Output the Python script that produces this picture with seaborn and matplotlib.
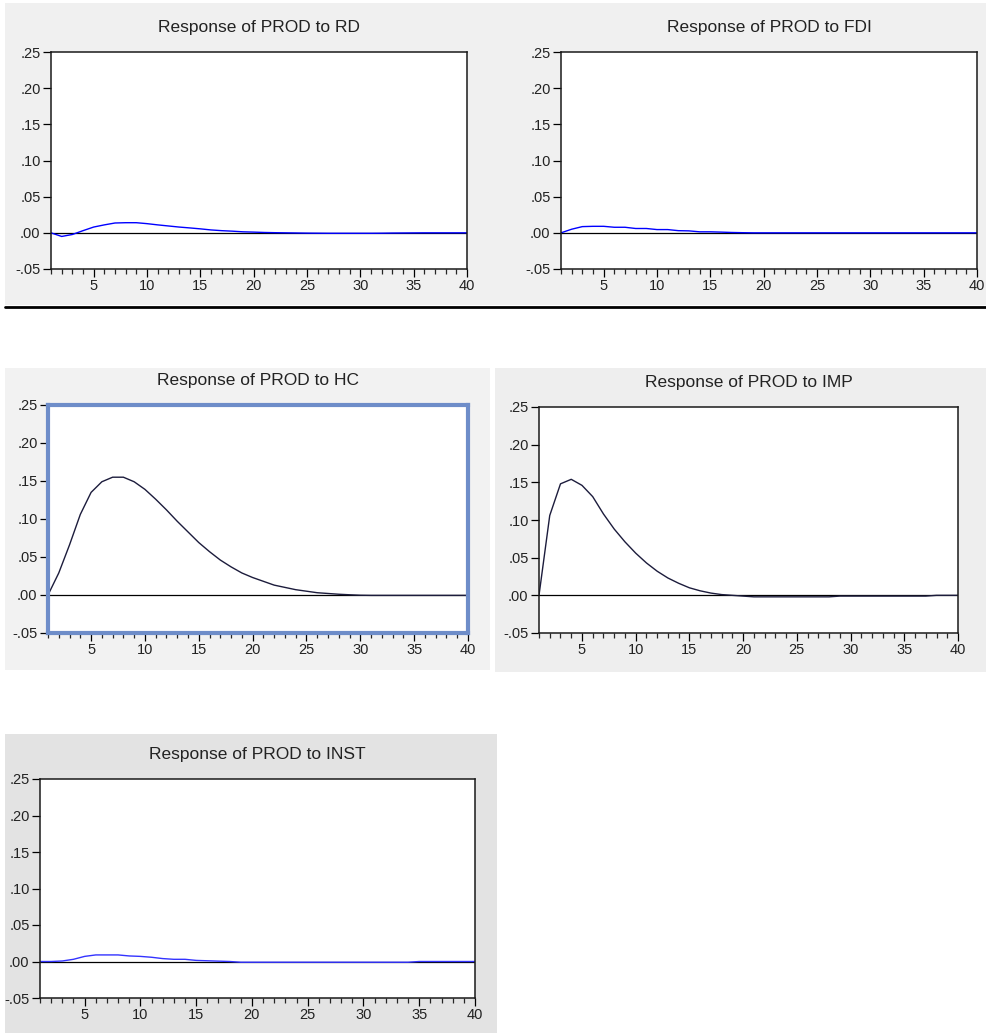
import matplotlib
matplotlib.use("Agg")
from matplotlib import pyplot as plt
from matplotlib.patches import Rectangle
from matplotlib.lines import Line2D
from matplotlib.ticker import FuncFormatter, MultipleLocator
import seaborn as sns
import pandas as pd

# periods 1..40
periods = list(range(1, 41))

rd = [0.0, -0.005, -0.0023, 0.003, 0.008, 0.011, 0.0136, 0.014, 0.014, 0.0127,
      0.011, 0.0095, 0.008, 0.0068, 0.0055, 0.004, 0.003, 0.0023, 0.0014, 0.001,
      0.0005, 0.0002, 0.0, -0.0002, -0.0004, -0.0005, -0.0006, -0.0006, -0.0006, -0.0006,
      -0.0006, -0.0005, -0.0003, -0.0002, -0.0001, 0.0, 0.0, 0.0, 0.0, 0.0]
fdi = [0.0, 0.005, 0.0086, 0.009, 0.009, 0.0077, 0.0077, 0.006, 0.006, 0.0045,
       0.0045, 0.003, 0.0027, 0.0014, 0.0014, 0.001, 0.0005, 0.0002, 0.0, 0.0,
       0.0, 0.0, 0.0, 0.0, 0.0, 0.0, 0.0, 0.0, 0.0, 0.0,
       0.0, 0.0, 0.0, 0.0, 0.0, 0.0, 0.0, 0.0, 0.0, 0.0]
hc = [0.0, 0.029, 0.066, 0.106, 0.135, 0.149, 0.155, 0.155, 0.149, 0.139,
      0.126, 0.112, 0.097, 0.083, 0.069, 0.057, 0.046, 0.037, 0.029, 0.023,
      0.018, 0.013, 0.010, 0.007, 0.005, 0.003, 0.002, 0.001, 0.0003, -0.0003,
      -0.0005, -0.0005, -0.0005, -0.0005, -0.0005, -0.0005, -0.0005, -0.0005, -0.0005, -0.0005]
imp = [0.0, 0.106, 0.148, 0.154, 0.146, 0.131, 0.108, 0.088, 0.071, 0.056,
       0.043, 0.032, 0.023, 0.016, 0.010, 0.006, 0.003, 0.001, 0.0, -0.001,
       -0.002, -0.002, -0.002, -0.002, -0.002, -0.002, -0.002, -0.002, -0.001, -0.001,
       -0.001, -0.001, -0.001, -0.001, -0.001, -0.001, -0.001, 0.0, 0.0, 0.0]
inst = [0.0, 0.0, 0.0007, 0.003, 0.007, 0.009, 0.009, 0.009, 0.0076, 0.007,
        0.0058, 0.004, 0.003, 0.003, 0.0015, 0.001, 0.0005, 0.0, -0.001, -0.001,
        -0.001, -0.001, -0.001, -0.001, -0.001, -0.001, -0.001, -0.001, -0.001, -0.001,
        -0.001, -0.001, -0.001, -0.001, 0.0, 0.0, 0.0, 0.0, 0.0, 0.0]

titles = ["Response of PROD to RD", "Response of PROD to FDI", "Response of PROD to HC",
          "Response of PROD to IMP", "Response of PROD to INST"]
series = [rd, fdi, hc, imp, inst]

W, H = 987, 1033

sns.set_theme(style="ticks")
plt.rcParams["font.family"] = ["Liberation Sans", "DejaVu Sans"]

fig = plt.figure(figsize=(W / 100, H / 100), dpi=100)
fig.patch.set_facecolor("white")


def frac(x0, y0, x1, y1):
    return [x0 / W, 1 - y1 / H, (x1 - x0) / W, (y1 - y0) / H]


# grey panel backgrounds (pixel boxes)
bgs = [((5, 3, 500, 305), "#f0f0f0"), ((500, 3, 987, 305), "#f0f0f0"),
       ((5, 368, 490, 670), "#f2f2f2"), ((495, 368, 987, 672), "#eeeeee"),
       ((5, 734, 497, 1033), "#e3e3e3")]
for (x0, y0, x1, y1), c in bgs:
    b = frac(x0, y0, x1, y1)
    fig.patches.append(Rectangle((b[0], b[1]), b[2], b[3], transform=fig.transFigure,
                                 facecolor=c, edgecolor="none", zorder=-10))
fig.lines.append(Line2D([5 / W, 1], [1 - 306.5 / H] * 2, transform=fig.transFigure,
                        color="black", lw=2, zorder=-5))

boxes = [(51, 52, 467, 269), (561, 52, 977, 269), (48, 405, 468, 633),
         (539, 407, 958, 633), (40, 779, 475, 998)]
colors = ["#0000ff", "#0000ff", "#1c1c3c", "#1c1c3c", "#3333ff"]

for i in range(5):
    ax = fig.add_axes(frac(*boxes[i]))
    ax.set_facecolor("white")
    df = pd.DataFrame({"period": periods, "resp": series[i]})
    ax.axhline(0, color="black", lw=0.9, zorder=1)
    sns.lineplot(data=df, x="period", y="resp", ax=ax, color=colors[i], lw=1.0, zorder=2)
    ax.set_xlim(1, 40)
    ax.set_ylim(-0.05, 0.25)
    ax.set_xlabel("")
    ax.set_ylabel("")
    ax.xaxis.set_major_locator(MultipleLocator(5))
    ax.xaxis.set_minor_locator(MultipleLocator(1))
    ax.yaxis.set_major_locator(MultipleLocator(0.05))
    ax.yaxis.set_major_formatter(FuncFormatter(lambda v, p: f"{v:.2f}".replace("0.", ".")))
    ax.tick_params(axis="both", which="major", direction="out", length=5.5, width=0.9,
                   labelsize=10.5, colors="black", labelcolor="#222222", pad=2)
    ax.tick_params(axis="x", which="minor", direction="out", length=3.5, width=0.9)
    for s in ax.spines.values():
        s.set_visible(True)
        s.set_color("#1a1a1a")
        s.set_linewidth(1.1)
    if i == 2:
        for s in ax.spines.values():
            s.set_color("#6e8dc9")
            s.set_linewidth(3.0)
    ax.set_title(titles[i], fontsize=12.5, color="#222222", pad=14.5)

fig.savefig("out.png", dpi=100)
